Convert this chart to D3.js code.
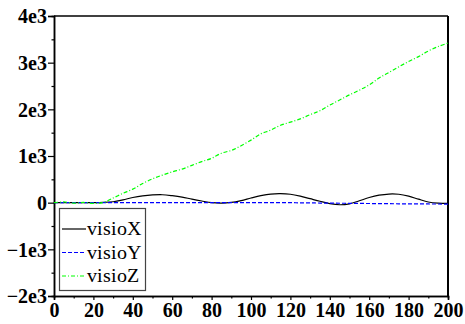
<!DOCTYPE html>
<html>
<head>
<meta charset="utf-8">
<style>
  @font-face { font-family: "PlotSerif"; src: local("Liberation Serif"), local("LiberationSerif"); font-weight: normal; }
  @font-face { font-family: "PlotSerif"; src: local("Liberation Serif Bold"), local("LiberationSerif-Bold"); font-weight: bold; }
  body { margin: 0; background: #fff; font-family: "Liberation Serif"; }
  svg { display: block; }
</style>
<script src="https://cdn.jsdelivr.net/npm/d3@7"></script>
</head>
<body>
<svg id="chart" width="465" height="324"></svg>
<script>
// sample positions (x) and the three series
const xs = d3.range(0, 201, 5);
const visioX = [0, 0, 0, 0, 0, 5, 20, 60, 110, 145, 165, 170, 150, 120, 75, 35, 0, -10, 5, 45,
  100, 150, 185, 193, 180, 140, 85, 30, -20, -45, -25, 40, 110, 160, 185, 180, 140, 75, 15, -10, -15];
const visioY = [0, 0, 0, 0, 0, 0, 0, 0, 0, 0, 0, 0, 0, 0, 0, 0, 0, 0, 0, 0,
  0, 0, 0, 0, 0, -3, -5, -8, -10, -12, -14, -16, -18, -20, -22, -24, -26, -27, -28, -29, -30];
const visioZ = [0, 15, -10, 5, -15, 5, 100, 200, 290, 410, 510, 590, 660, 720, 800, 880, 950, 1060, 1120, 1220,
  1340, 1475, 1555, 1660, 1725, 1795, 1885, 1970, 2090, 2200, 2310, 2410, 2525, 2670, 2790, 2910, 3025, 3130, 3250, 3345, 3420];

const xTicks = [0, 20, 40, 60, 80, 100, 120, 140, 160, 180, 200];
const yTicks = [-2000, -1000, 0, 1000, 2000, 3000, 4000];
const yTickLabels = ["\u22122e3", "\u22121e3", "0", "1e3", "2e3", "3e3", "4e3"];

const series = [
  { name: "visioX", values: visioX, color: "#000000", dash: null },
  { name: "visioY", values: visioY, color: "#0000ff", dash: "4,2" },
  { name: "visioZ", values: visioZ, color: "#00ff00", dash: "4,2,1,2" }
];

const margin = { top: 16, right: 17, bottom: 28, left: 54 };
const width = 465, height = 324;

const svg = d3.select("#chart");

const x = d3.scaleLinear().domain([0, 200]).range([margin.left, width - margin.right]);
const y = d3.scaleLinear().domain([-2000, 4000]).range([height - margin.bottom, margin.top]);

// frame: top and right
svg.append("line")
  .attr("x1", x(0)).attr("x2", x(200))
  .attr("y1", y(4000)).attr("y2", y(4000))
  .attr("stroke", "#000").attr("stroke-width", 1.3);
svg.append("line")
  .attr("x1", x(200)).attr("x2", x(200))
  .attr("y1", y(4000)).attr("y2", y(-2000))
  .attr("stroke", "#000").attr("stroke-width", 2);

// minor ticks
const xMinor = svg.append("g")
  .attr("transform", `translate(0,${y(-2000)})`)
  .call(d3.axisBottom(x).tickValues(d3.range(10, 200, 20)).tickSize(2.5).tickFormat(""));
const yMinor = svg.append("g")
  .attr("transform", `translate(${x(0)},0)`)
  .call(d3.axisLeft(y).tickValues(d3.range(-1500, 4000, 1000)).tickSize(2.5).tickFormat(""));

const xAxis = svg.append("g")
  .attr("transform", `translate(0,${y(-2000)})`)
  .call(d3.axisBottom(x).tickValues(xTicks).tickSize(4).tickPadding(3).tickFormat(d3.format("d")));

const yAxis = svg.append("g")
  .attr("transform", `translate(${x(0)},0)`)
  .call(d3.axisLeft(y).tickValues(yTicks).tickSize(6).tickPadding(1)
    .tickFormat((d, i) => yTickLabels[i]));

[xMinor, yMinor, xAxis, yAxis].forEach(g => {
  g.attr("font-family", "Times New Roman").attr("font-size", 20);
  g.select(".domain").attr("stroke", "#000").attr("stroke-width", 1.5);
  g.selectAll(".tick line").attr("stroke", "#000").attr("stroke-width", 1.2);
  g.selectAll("text")
    .attr("font-family", "Times New Roman")
    .attr("font-size", 20)
    .attr("font-weight", "bold")
    .attr("fill", "#000");
});
yAxis.selectAll("text").attr("dy", "0.34em");

// series lines
const line = d3.line()
  .x((d, i) => x(xs[i]))
  .y(d => y(d))
  .curve(d3.curveCatmullRom);

series.forEach(s => {
  svg.append("path")
    .datum(s.values)
    .attr("fill", "none")
    .attr("stroke", s.color)
    .attr("stroke-width", 1.2)
    .attr("stroke-dasharray", s.dash)
    .attr("d", line);
});

// legend
const legend = svg.append("g").attr("font-family", "PlotSerif");
legend.append("rect")
  .attr("x", 59.5).attr("y", 208.5)
  .attr("width", 86).attr("height", 82)
  .attr("fill", "#fff")
  .attr("stroke", "#444").attr("stroke-width", 1.2);

series.forEach((s, i) => {
  const base = 235 + i * 23.5;
  legend.append("line")
    .attr("x1", 62).attr("x2", 86)
    .attr("y1", base - 6).attr("y2", base - 6)
    .attr("stroke", s.color)
    .attr("stroke-width", 1.2)
    .attr("stroke-dasharray", s.dash);
  legend.append("text")
    .attr("x", 87).attr("y", base)
    .attr("font-family", "PlotSerif")
    .attr("font-size", 20)
    .attr("fill", "#000")
    .text(s.name);
});
</script>
</body>
</html>
